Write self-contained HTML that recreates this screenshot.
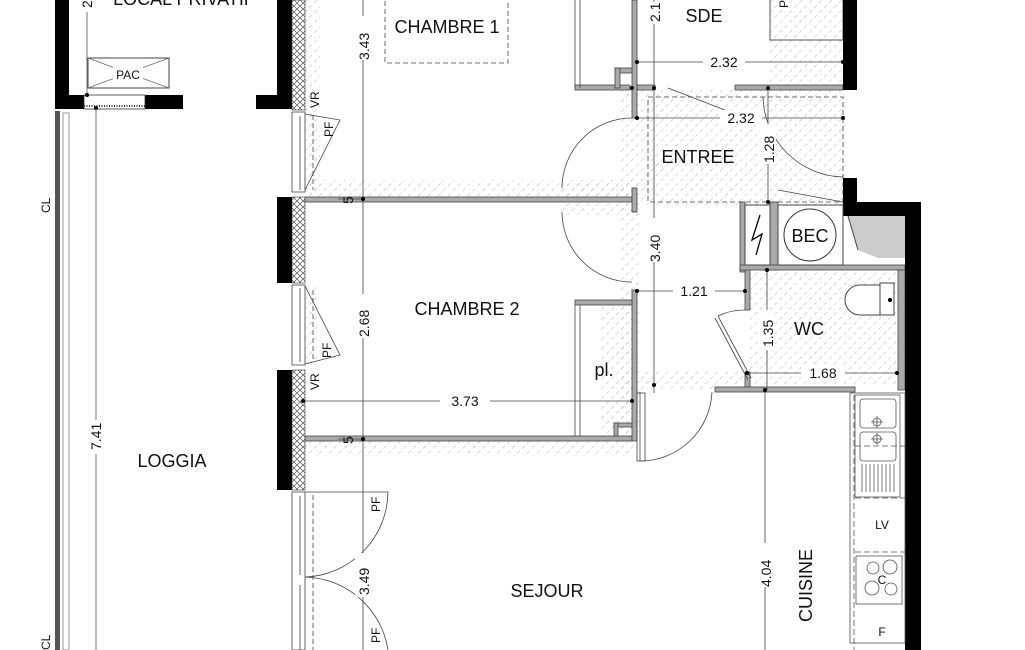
<!DOCTYPE html>
<html><head><meta charset="utf-8"><style>
html,body{margin:0;padding:0;background:#fff;}
svg{display:block;}
text{font-family:"Liberation Sans",sans-serif;fill:#111;}
.room{font-size:18px;}
.dim{font-size:14px;}
.sm{font-size:12px;}
</style></head><body>
<svg width="1025" height="650" viewBox="0 0 1025 650" xmlns="http://www.w3.org/2000/svg">
<defs>
<pattern id="h" width="7" height="7" patternUnits="userSpaceOnUse" patternTransform="rotate(45)">
<line x1="0" y1="0" x2="0" y2="4" stroke="#aaa" stroke-width="0.9"/>
</pattern>
<pattern id="x" width="6" height="6" patternUnits="userSpaceOnUse">
<path d="M0 0L6 6M6 0L0 6" stroke="#555" stroke-width="0.7"/>
</pattern>
</defs>

<g fill="url(#h)">
<rect x="305" y="0" width="15" height="195"/>
<rect x="305" y="180" width="330" height="17"/>
<rect x="305" y="441" width="330" height="15"/>
<rect x="620" y="90" width="225" height="115"/>
<rect x="620" y="205" width="20" height="235"/>
<rect x="600" y="300" width="32" height="135"/>
<rect x="620" y="370" width="130" height="20"/>
<rect x="750" y="270" width="150" height="115"/>
<rect x="770" y="0" width="73" height="90"/>
<rect x="560" y="180" width="80" height="35"/>
<rect x="305" y="285" width="12" height="80"/>
</g>

<rect x="55" y="0" width="14" height="109" fill="#000"/>
<rect x="55" y="95" width="29" height="14" fill="#000"/>
<rect x="145" y="95" width="38" height="14" fill="#000"/>
<rect x="84" y="95" width="61" height="14" fill="#fff" stroke="#333" stroke-width="0.8"/>
<line x1="84" y1="106" x2="145" y2="106" stroke="#333" stroke-width="2" stroke-dasharray="1 1.5"/>
<rect x="256" y="95" width="36" height="14" fill="#000"/>
<rect x="277" y="0" width="15" height="109" fill="#000"/>
<rect x="88" y="58" width="81" height="30" fill="none" stroke="#444"/>
<path d="M88 58L169 88M169 58L88 88" stroke="#666" stroke-width="0.7"/>
<rect x="113" y="65" width="30" height="16" fill="#fff"/>
<text x="128" y="79" class="sm" text-anchor="middle">PAC</text>
<line x1="87" y1="12" x2="87" y2="95" stroke="#555" stroke-width="0.8"/>
<circle cx="87" cy="95" r="2"/>
<text class="dim" transform="translate(92,8) rotate(-90)">2</text>
<circle cx="96" cy="108" r="2"/>

<rect x="55" y="111" width="5" height="539" fill="#555"/>
<rect x="63" y="113" width="6" height="537" fill="none" stroke="#999"/>
<line x1="96" y1="108" x2="96" y2="650" stroke="#555" stroke-width="0.8"/>
<rect x="88" y="420" width="16" height="34" fill="#fff"/>
<text class="dim" transform="translate(101,450) rotate(-90)">7.41</text>
<text class="sm" transform="translate(50,213) rotate(-90)">CL</text>
<text class="sm" transform="translate(50,650) rotate(-90)">CL</text>
<text x="172" y="467" class="room" text-anchor="middle">LOGGIA</text>

<rect x="292" y="0" width="13" height="110" fill="url(#x)" stroke="#333" stroke-width="0.6"/>
<rect x="292" y="197" width="13" height="86" fill="url(#x)" stroke="#333" stroke-width="0.6"/>
<rect x="292" y="370" width="13" height="120" fill="url(#x)" stroke="#333" stroke-width="0.6"/>
<rect x="277" y="197" width="15" height="86" fill="#000"/>
<rect x="277" y="370" width="15" height="120" fill="#000"/>
<g fill="none" stroke="#444" stroke-width="0.8">
<rect x="292" y="112" width="13" height="80"/><line x1="300" y1="116" x2="300" y2="190"/>
<rect x="292" y="285" width="13" height="80"/><line x1="300" y1="288" x2="300" y2="362"/>
<rect x="292" y="492" width="13" height="158"/><line x1="300" y1="496" x2="300" y2="575"/><line x1="300" y1="585" x2="300" y2="650"/>
<line x1="313" y1="115" x2="313" y2="190" stroke-dasharray="5 3"/>
<line x1="313" y1="290" x2="313" y2="362" stroke-dasharray="5 3"/>
<line x1="313" y1="495" x2="313" y2="650" stroke-dasharray="5 3"/>
<path d="M305 114L340 120L305 190"/>
<path d="M305 286L340 355L305 364"/>
<path d="M305 492L388 492A86 86 0 0 1 305 577"/>
<path d="M305 577A86 86 0 0 1 388 650"/>
</g>
<text class="sm" transform="translate(319,108) rotate(-90)">VR</text>
<text class="sm" transform="translate(333,137) rotate(-90)">PF</text>
<text class="sm" transform="translate(331,358) rotate(-90)">PF</text>
<text class="sm" transform="translate(319,390) rotate(-90)">VR</text>
<text class="sm" transform="translate(380,512) rotate(-90)">PF</text>
<text class="sm" transform="translate(380,643) rotate(-90)">PF</text>

<g fill="#aaa" stroke="#444" stroke-width="0.8">
<rect x="305" y="197" width="327" height="5"/>
<rect x="305" y="436" width="327" height="5"/>
<rect x="632" y="290" width="5" height="151"/>
<rect x="575" y="300" width="57" height="5"/>
<rect x="575" y="85" width="55" height="5"/>
<rect x="632" y="0" width="5" height="118"/>
<rect x="637" y="85" width="18" height="5"/>
<rect x="735" y="85" width="108" height="5"/>
<rect x="615" y="68" width="17" height="5"/>
<rect x="615" y="68" width="5" height="20"/>
<rect x="614" y="423" width="18" height="4"/>
<rect x="614" y="423" width="4" height="13"/>
<rect x="745" y="265" width="5" height="45"/>
<rect x="745" y="372" width="5" height="15"/>
<rect x="715" y="387" width="140" height="5"/>
<rect x="740" y="202" width="5" height="70"/>
<rect x="770" y="202" width="8" height="68"/>
<rect x="740" y="265" width="165" height="5"/>
<rect x="898" y="270" width="7" height="120"/>
<rect x="632" y="188" width="5" height="24"/>
</g>
<g fill="none" stroke="#444" stroke-width="0.8">
<path d="M575 0V88M580 0V88"/>
<path d="M575 305V436M580 305V436"/>
<rect x="385" y="-2" width="123" height="65" stroke-dasharray="5 3"/>
<rect x="648" y="97" width="195" height="105" stroke-dasharray="5 3"/>
<path d="M632 118A70 70 0 0 0 562 188"/>
<path d="M562 212A70 70 0 0 0 632 282"/>
<path d="M640 392V461A72 72 0 0 0 712 392"/>
<path d="M763 97A82 82 0 0 0 843 177"/>
<path d="M668 88L730 112"/>
<path d="M778 190L843 202"/>
<path d="M715 318L748 380M718 316L751 378"/>
<path d="M718 316Q730 310 745 310"/>
<rect x="637" y="393" width="8" height="68"/>
</g>

<rect x="770" y="-2" width="73" height="42" fill="none" stroke="#555"/>
<text x="704" y="22" class="room" text-anchor="middle">SDE</text>

<rect x="843" y="0" width="14" height="90" fill="#000"/>
<rect x="843" y="178" width="14" height="25" fill="#000"/>
<rect x="843" y="202" width="78" height="14" fill="#000"/>
<rect x="905" y="202" width="16" height="448" fill="#000"/>
<path d="M848 216H905V258H878L858 250Z" fill="#ccc"/>
<path d="M848 216L858 250" stroke="#444"/>

<rect x="745" y="205" width="25" height="60" fill="#fff" stroke="#444"/>
<path d="M760 215L752 240L762 234L756 255" fill="none" stroke="#000" stroke-width="1.3"/>
<rect x="778" y="205" width="65" height="60" fill="#fff" stroke="#444"/>
<circle cx="810" cy="235" r="26" fill="none" stroke="#333"/>
<text x="810" y="242" class="room" text-anchor="middle">BEC</text>

<path d="M880 285H860A15 15 0 0 0 860 315H880Z" fill="#fff" stroke="#444"/>
<rect x="880" y="283" width="14" height="32" fill="#fff" stroke="#444"/>
<circle cx="890" cy="300" r="2"/>
<text x="809" y="335" class="room" text-anchor="middle">WC</text>

<g fill="none" stroke="#555" stroke-width="0.8">
<rect x="850" y="393" width="55" height="250"/>
<line x1="854" y1="395" x2="854" y2="650" stroke-dasharray="6 3"/>
<rect x="855" y="395" width="45" height="102"/>
<rect x="860" y="399" width="36" height="29" rx="3"/>
<rect x="860" y="432" width="36" height="29" rx="3"/>
<line x1="855" y1="446" x2="905" y2="446" stroke-dasharray="6 3"/>
<path d="M862 464V492M866 464V492M870 464V492M874 464V492M878 464V492M882 464V492M886 464V492M890 464V492M894 464V492"/>
<line x1="855" y1="498" x2="905" y2="498" stroke-dasharray="6 3"/>
<line x1="855" y1="552" x2="905" y2="552" stroke-dasharray="6 3"/>
<rect x="856" y="556" width="46" height="48"/>
<circle cx="873" cy="568" r="6"/><circle cx="890" cy="567" r="7"/>
<circle cx="872" cy="588" r="7"/><circle cx="891" cy="589" r="6"/>
<circle cx="877" cy="422" r="4"/><circle cx="877" cy="439" r="4"/>
<path d="M871 422H883M877 416V428M871 439H883M877 433V445"/>
</g>
<text x="882" y="529" class="sm" text-anchor="middle">LV</text>
<text x="882" y="584" class="sm" text-anchor="middle">C</text>
<text x="882" y="636" class="sm" text-anchor="middle">F</text>
<text class="room" transform="translate(812,622) rotate(-90)">CUISINE</text>

<g stroke="#444" stroke-width="0.8" fill="none">
<line x1="363" y1="0" x2="363" y2="650"/>
<line x1="303" y1="401" x2="632" y2="401"/>
<line x1="654" y1="0" x2="654" y2="393"/>
<line x1="637" y1="62" x2="843" y2="62"/>
<line x1="637" y1="118" x2="845" y2="118"/>
<line x1="768" y1="88" x2="768" y2="202"/>
<line x1="637" y1="291" x2="745" y2="291"/>
<line x1="767" y1="270" x2="767" y2="390"/>
<line x1="747" y1="373" x2="897" y2="373"/>
<line x1="765" y1="390" x2="765" y2="650"/>
<line x1="338" y1="199" x2="365" y2="199"/>
<line x1="338" y1="439" x2="365" y2="439"/>
</g>
<g fill="#000">
<circle cx="363" cy="199" r="2"/><circle cx="363" cy="439" r="2"/>
<circle cx="303" cy="401" r="2"/><circle cx="632" cy="401" r="2"/>
<circle cx="637" cy="62" r="2"/><circle cx="843" cy="62" r="2"/>
<circle cx="637" cy="118" r="2"/><circle cx="843" cy="118" r="2"/>
<circle cx="654" cy="88" r="2"/><circle cx="768" cy="88" r="2"/><circle cx="768" cy="202" r="2"/>
<circle cx="654" cy="385" r="2"/><circle cx="637" cy="291" r="2"/><circle cx="745" cy="291" r="2"/>
<circle cx="767" cy="270" r="2"/><circle cx="747" cy="373" r="2"/><circle cx="897" cy="373" r="2"/>
<circle cx="765" cy="390" r="2"/><circle cx="632" cy="88" r="2"/>
</g>
<g fill="#fff">
<rect x="355" y="16" width="16" height="44"/><rect x="355" y="294" width="16" height="44"/>
<rect x="355" y="553" width="16" height="44"/><rect x="440" y="393" width="50" height="16"/>
<rect x="646" y="2" width="16" height="22"/><rect x="646" y="218" width="16" height="44"/>
<rect x="703" y="54" width="42" height="16"/><rect x="720" y="110" width="42" height="16"/>
<rect x="760" y="124" width="16" height="40"/><rect x="673" y="283" width="42" height="16"/>
<rect x="759" y="310" width="16" height="40"/><rect x="801" y="365" width="44" height="16"/>
<rect x="757" y="543" width="16" height="44"/>
</g>
<g>
<text class="dim" transform="translate(369,60) rotate(-90)">3.43</text>
<text class="dim" transform="translate(369,337) rotate(-90)">2.68</text>
<text class="dim" transform="translate(369,595) rotate(-90)">3.49</text>
<text class="dim" transform="translate(353,204) rotate(-90)">5</text>
<text class="dim" transform="translate(353,444) rotate(-90)">5</text>
<text x="465" y="406" class="dim" text-anchor="middle">3.73</text>
<text class="dim" transform="translate(660,22) rotate(-90)">2.1</text>
<text class="dim" transform="translate(660,262) rotate(-90)">3.40</text>
<text x="724" y="67" class="dim" text-anchor="middle">2.32</text>
<text x="741" y="123" class="dim" text-anchor="middle">2.32</text>
<text class="dim" transform="translate(774,163) rotate(-90)">1.28</text>
<text x="694" y="296" class="dim" text-anchor="middle">1.21</text>
<text class="dim" transform="translate(773,347) rotate(-90)">1.35</text>
<text x="823" y="378" class="dim" text-anchor="middle">1.68</text>
<text class="dim" transform="translate(771,587) rotate(-90)">4.04</text>
</g>

<text x="447" y="33" class="room" text-anchor="middle">CHAMBRE 1</text>
<text x="467" y="315" class="room" text-anchor="middle">CHAMBRE 2</text>
<text x="604" y="376" class="room" text-anchor="middle">pl.</text>
<text x="698" y="163" class="room" text-anchor="middle">ENTREE</text>
<text x="547" y="597" class="room" text-anchor="middle">SEJOUR</text>
<text x="184" y="5" class="room" text-anchor="middle">LOCAL PRIVATIF</text>
<text class="sm" transform="translate(788,8) rotate(-90)">P</text>
</svg>
</body></html>
